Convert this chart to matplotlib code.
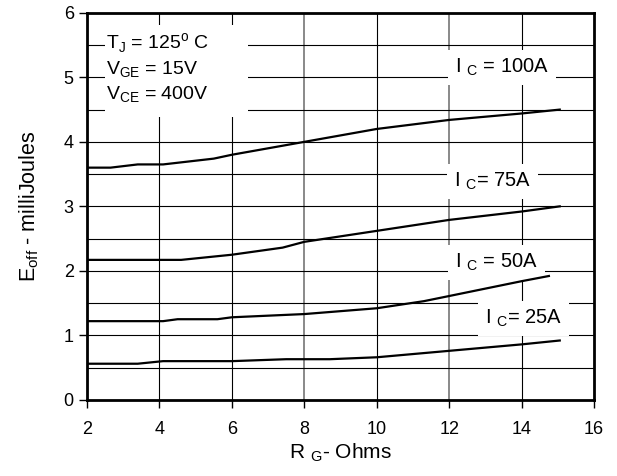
import numpy as np
import matplotlib.pyplot as plt
from matplotlib.patches import Rectangle

plt.rcParams['font.family'] = ['Liberation Sans', 'DejaVu Sans']
plt.rcParams['mathtext.fontset'] = 'custom'
plt.rcParams['mathtext.rm'] = 'Liberation Sans'

# Datos (R_G en ohms, E_off en mJ)
rg_100 = [2.0, 2.65, 3.4, 4.1, 5.5, 6.0, 8.0, 10.0, 12.0, 14.0, 15.05]
eoff_100 = [3.60, 3.60, 3.65, 3.65, 3.74, 3.80, 4.00, 4.20, 4.34, 4.44, 4.50]

rg_75 = [2.0, 4.6, 6.0, 7.4, 8.0, 10.0, 12.0, 14.0, 15.05]
eoff_75 = [2.17, 2.17, 2.25, 2.36, 2.45, 2.62, 2.79, 2.92, 3.00]

rg_50 = [2.0, 4.1, 4.5, 5.6, 6.0, 8.0, 10.0, 11.3, 12.0, 14.0, 14.75]
eoff_50 = [1.22, 1.22, 1.25, 1.25, 1.28, 1.33, 1.42, 1.53, 1.61, 1.84, 1.92]

rg_25 = [2.0, 3.4, 4.1, 6.0, 7.5, 8.7, 10.0, 12.0, 14.0, 15.05]
eoff_25 = [0.56, 0.56, 0.60, 0.60, 0.63, 0.63, 0.66, 0.76, 0.86, 0.92]

curvas = [(rg_100, eoff_100), (rg_75, eoff_75), (rg_50, eoff_50), (rg_25, eoff_25)]

etiquetas = [r'I $_\mathregular{C}$ = 100A', r'I $_\mathregular{C}$= 75A',
             r'I $_\mathregular{C}$ = 50A', r'I $_\mathregular{C}$= 25A']
pos_etiquetas = [(13.45, 5.15), (13.2, 3.38), (13.3, 2.13), (14.05, 1.26)]

condiciones = [r'T$_\mathregular{J}$ = 125$^\mathregular{o}$ C',
               r'V$_\mathregular{GE}$ = 15V',
               r'V$_\mathregular{CE}$ = 400V']
pos_condiciones = [5.53, 5.12, 4.73]

fig = plt.figure(figsize=(6.17, 4.76), dpi=100)
ax = fig.add_axes([0.141, 0.160, 0.822, 0.813])

# Cuadricula
ax.set_xlim(2, 16)
ax.set_ylim(0, 6)
ax.set_xticks(np.arange(2, 17, 2))
ax.set_yticks(np.arange(0, 7, 1))
ax.set_yticks(np.arange(0.5, 6, 1), minor=True)
ax.grid(True, which='both', color='black', linewidth=0.8, zorder=0)
ax.set_axisbelow(True)
# las lineas de 8 y 12 se ven grises en el original
for gl, xv in zip(ax.get_xgridlines(), np.arange(2, 17, 2)):
    if xv in (8, 12):
        gl.set_color('#808080')
        gl.set_linewidth(1.3)
ax.tick_params(which='minor', left=False)
ax.tick_params(which='major', direction='out', length=6, width=1, labelsize=13)
ax.tick_params(axis='x', pad=9)

for s in ax.spines.values():
    s.set_linewidth(2)

# Curvas
for x, y in curvas:
    ax.plot(x, y, color='black', linewidth=1.6, zorder=4)

# Recuadro de condiciones
ax.add_patch(Rectangle((0.036, 0.731), 0.282, 0.238, transform=ax.transAxes,
                       facecolor='white', edgecolor='none', zorder=2))
for txt, yy in zip(condiciones, pos_condiciones):
    ax.text(2.52, yy, txt, fontsize=14, va='center', ha='left', zorder=3)

# Etiquetas de corriente
for txt, (xx, yy) in zip(etiquetas, pos_etiquetas):
    ax.text(xx, yy, txt, fontsize=14.5, va='center', ha='center', zorder=3,
            bbox=dict(facecolor='white', edgecolor='none', pad=5))

ax.set_xlabel(r'R $_\mathregular{G}$- Ohms', fontsize=15, labelpad=3)
ax.set_ylabel(r'E$_\mathregular{off}$ - milliJoules', fontsize=15.5, labelpad=16)

fig.savefig('out.png', dpi=100)
